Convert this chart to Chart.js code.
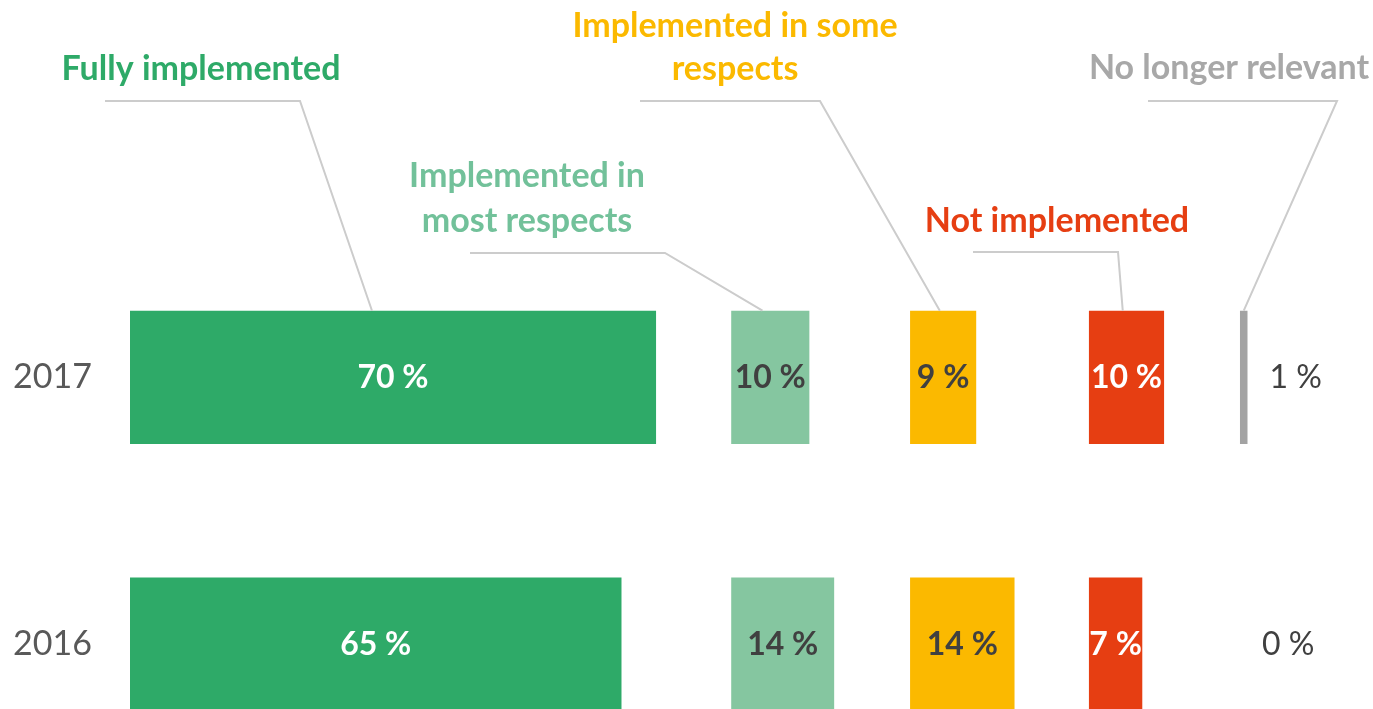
<!DOCTYPE html>
<html>
<head>
<meta charset="utf-8">
<script src="https://cdn.jsdelivr.net/npm/chart.js@4.4.1/dist/chart.umd.min.js"></script>
<style>
  html, body { margin: 0; padding: 0; background: #fff; overflow: hidden; }
  canvas { display: block; }
</style>
</head>
<body>
<canvas id="implChart" width="1373" height="836"></canvas>
<script>
var years = ['2017', '2016'];
var seriesNames = ['Fully implemented', 'Implemented in most respects', 'Implemented in some respects', 'Not implemented', 'No longer relevant'];
var fullyImplemented = [70, 65.4];
var mostRespects = [10.4, 13.7];
var someRespects = [8.8, 13.9];
var notImplemented = [10, 7.1];
var noLongerRelevant = [1, 0];

// layout: where each column of bars begins on the x scale
var columnStart = [0, 80, 103.8, 127.6, 147.7];
var barColors = ['#2EAA68', '#85C6A0', '#FBB900', '#E63E12', '#A3A3A3'];
var titleColors = ['#2EAA68', '#72C19A', '#FBB900', '#E63E12', '#A8A8A8'];
var valueColors = ['#ffffff', '#404040', '#404040', '#ffffff', '#404040'];
var valueWeights = ['bold', 'bold', 'bold', 'bold', 'normal'];
var fontFamily = 'Lato, "Open Sans", sans-serif';

// title text + leader line placement (pixels)
var titleLayout = [
    { lines: ['Fully implemented'], x: 201, y: [69], lineY: 101, from: 105, bend: 300, anchor: 0.46 },
    { lines: ['Implemented in', 'most respects'], x: 527, y: [176, 221], lineY: 253, from: 470, bend: 665, anchor: 0.40 },
    { lines: ['Implemented in some', 'respects'], x: 735, y: [26, 69], lineY: 101, from: 640, bend: 820, anchor: 0.45 },
    { lines: ['Not implemented'], x: 1057, y: [221], lineY: 252, from: 973, bend: 1118, anchor: 0.45 },
    { lines: ['No longer relevant'], x: 1229, y: [68], lineY: 101, from: 1148, bend: 1337, anchor: 0.5 }
];

var allSeries = [fullyImplemented, mostRespects, someRespects, notImplemented, noLongerRelevant];

var datasets = allSeries.map(function (values, k) {
    return {
        label: seriesNames[k],
        data: values.map(function (v) { return [columnStart[k], columnStart[k] + v]; }),
        backgroundColor: barColors[k],
        borderWidth: 0,
        categoryPercentage: 0.5,
        barPercentage: 1
    };
});

var annotate = {
    id: 'annotate',
    afterDatasetsDraw: function (chart) {
        var ctx = chart.ctx;
        ctx.save();
        ctx.textBaseline = 'middle';

        // titles and leader lines
        titleLayout.forEach(function (t, k) {
            ctx.font = 'bold 34px ' + fontFamily;
            ctx.fillStyle = titleColors[k];
            ctx.textAlign = 'center';
            t.lines.forEach(function (line, j) {
                ctx.fillText(line, t.x, t.y[j]);
            });
            var bar = chart.getDatasetMeta(k).data[0];
            var left = Math.min(bar.x, bar.base);
            var w = Math.abs(bar.x - bar.base);
            var ax = left + w * t.anchor;
            var ay = bar.y - bar.height / 2;
            ctx.strokeStyle = '#CCCCCC';
            ctx.lineWidth = 2;
            ctx.beginPath();
            ctx.moveTo(t.from, t.lineY);
            ctx.lineTo(t.bend, t.lineY);
            ctx.lineTo(ax, ay);
            ctx.stroke();
        });

        // value labels
        allSeries.forEach(function (values, k) {
            var meta = chart.getDatasetMeta(k);
            meta.data.forEach(function (bar, i) {
                var txt = Math.round(values[i]) + ' %';
                ctx.fillStyle = valueColors[k];
                ctx.font = valueWeights[k] + ' 32px ' + fontFamily;
                if (k === allSeries.length - 1) {
                    ctx.textAlign = 'left';
                    ctx.fillText(txt, Math.max(bar.x, bar.base) + 22, bar.y);
                } else {
                    ctx.textAlign = 'center';
                    ctx.fillText(txt, (bar.x + bar.base) / 2, bar.y);
                }
            });
        });
        ctx.restore();
    }
};

new Chart(document.getElementById('implChart'), {
    type: 'bar',
    data: { labels: years, datasets: datasets },
    options: {
        indexAxis: 'y',
        responsive: false,
        animation: false,
        layout: { padding: { top: 244, bottom: 3, left: 0, right: 0 } },
        plugins: { legend: { display: false }, tooltip: { enabled: false } },
        scales: {
            x: { display: false, min: 0, max: 165.4 },
            y: {
                stacked: true,
                afterFit: function (axis) { axis.width = 130; },
                grid: { display: false, drawTicks: false },
                border: { display: false },
                ticks: { padding: 38, color: '#595959', font: { family: fontFamily, size: 34 } }
            }
        }
    },
    plugins: [annotate]
});
</script>
</body>
</html>
